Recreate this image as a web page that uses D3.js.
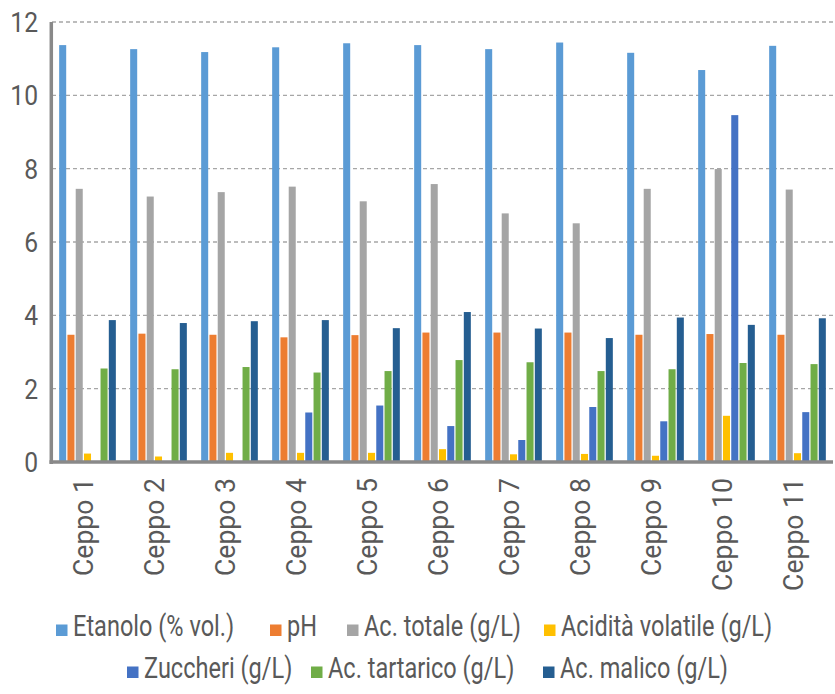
<!DOCTYPE html>
<html>
<head>
<meta charset="utf-8">
<script src="https://cdn.jsdelivr.net/npm/d3@7"></script>
<style>
  html, body { margin: 0; padding: 0; background: #fff; }
  svg { display: block; }
  text { font-family: Roboto, "Liberation Sans", Arial, sans-serif; fill: #595959; }
</style>
</head>
<body>
<svg id="chart" width="835" height="694"></svg>
<script>
// ---- data ----
const categories = ["Ceppo 1","Ceppo 2","Ceppo 3","Ceppo 4","Ceppo 5","Ceppo 6","Ceppo 7","Ceppo 8","Ceppo 9","Ceppo 10","Ceppo 11"];
const seriesNames = ["Etanolo (% vol.)","pH","Ac. totale (g/L)","Acidità volatile (g/L)","Zuccheri (g/L)","Ac. tartarico (g/L)","Ac. malico (g/L)"];
const etanolo   = [11.37, 11.26, 11.18, 11.31, 11.42, 11.37, 11.26, 11.44, 11.16, 10.69, 11.35];
const pH        = [3.47, 3.50, 3.47, 3.40, 3.46, 3.53, 3.53, 3.53, 3.47, 3.49, 3.47];
const acTotale  = [7.45, 7.24, 7.36, 7.51, 7.11, 7.58, 6.78, 6.51, 7.45, 7.99, 7.43];
const acVolat   = [0.23, 0.15, 0.25, 0.25, 0.25, 0.35, 0.21, 0.22, 0.17, 1.26, 0.24];
const zuccheri  = [0, 0, 0, 1.35, 1.54, 0.98, 0.60, 1.50, 1.11, 9.46, 1.36];
const acTartar  = [2.55, 2.53, 2.59, 2.44, 2.48, 2.78, 2.72, 2.48, 2.53, 2.70, 2.67];
const acMalico  = [3.87, 3.79, 3.84, 3.87, 3.65, 4.09, 3.64, 3.38, 3.94, 3.74, 3.92];
const yTicks    = [0, 2, 4, 6, 8, 10, 12];
const colors    = ["#5B9BD5","#ED7D31","#A5A5A5","#FFC000","#4472C4","#70AD47","#255E91"];

const seriesValues = [etanolo, pH, acTotale, acVolat, zuccheri, acTartar, acMalico];

// ---- layout ----
const svg = d3.select("#chart");
const plotLeft = 52, plotRight = 833, plotTop = 22, plotBottom = 462;

const x0 = d3.scaleBand().domain(categories).range([plotLeft, plotRight])
  .paddingInner(0.2017).paddingOuter(0.1009);
const x1 = d3.scaleBand().domain(d3.range(seriesNames.length)).range([0, x0.bandwidth()])
  .paddingInner(0.15).paddingOuter(0);
const y = d3.scaleLinear().domain([0, 12]).range([plotBottom, plotTop]);

// gridlines
svg.append("g").selectAll("line").data(yTicks.filter(d => d > 0)).join("line")
  .attr("x1", plotLeft).attr("x2", plotRight)
  .attr("y1", d => y(d)).attr("y2", d => y(d))
  .attr("stroke", "#a6a6a6").attr("stroke-width", 1.3).attr("stroke-dasharray", "4,3");

// bars
const groups = svg.append("g").selectAll("g").data(categories).join("g")
  .attr("transform", d => `translate(${x0(d)},0)`);
groups.selectAll("rect")
  .data((c, ci) => seriesValues.map((vals, si) => ({si, v: vals[ci]})))
  .join("rect")
  .attr("x", d => x1(d.si))
  .attr("width", x1.bandwidth())
  .attr("y", d => y(d.v))
  .attr("height", d => y(0) - y(d.v))
  .attr("fill", d => colors[d.si]);

// axes lines
svg.append("line").attr("x1", 51.3).attr("x2", 51.3).attr("y1", y(12)).attr("y2", plotBottom + 2)
  .attr("stroke", "#898989").attr("stroke-width", 3.5);
svg.append("line").attr("x1", 49.5).attr("x2", plotRight).attr("y1", plotBottom).attr("y2", plotBottom)
  .attr("stroke", "#898989").attr("stroke-width", 3.5);

// y tick labels
svg.append("g").selectAll("text").data(yTicks).join("text")
  .attr("transform", d => `translate(38,${y(d) + 10}) scale(0.88,1)`)
  .attr("text-anchor", "end")
  .attr("font-size", 28)
  .text(d => d);

// x category labels (rotated)
svg.append("g").selectAll("text").data(categories).join("text")
  .attr("transform", d => `translate(${x0(d) + x0.bandwidth() / 2 - 4},478) rotate(-90) scale(0.95,1)`)
  .attr("text-anchor", "end")
  .attr("dy", "0.35em")
  .attr("font-size", 28)
  .text(d => d);

// legend
const legendRows = [[0, 1, 2, 3], [4, 5, 6]];
const legendBaselines = [636, 678];
const legendSquareX = [56, 270, 347, 544, 127, 311, 543];
const lg = svg.append("g");
legendRows.forEach((row, ri) => {
  row.forEach(si => {
    const bx = legendSquareX[si], by = legendBaselines[ri];
    lg.append("rect").attr("x", bx).attr("y", by - 11.5).attr("width", 11.5).attr("height", 11.5)
      .attr("fill", colors[si]);
    lg.append("text")
      .attr("transform", `translate(${bx + 17},${by}) scale(0.785,1)`)
      .attr("font-size", 30)
      .text(seriesNames[si]);
  });
});
</script>
</body>
</html>
